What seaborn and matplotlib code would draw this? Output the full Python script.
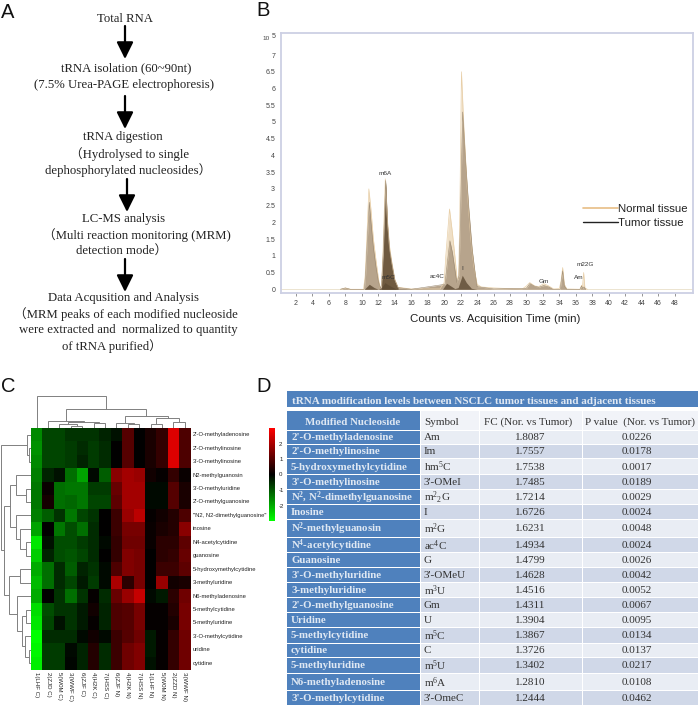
import numpy as np
import pandas as pd
import matplotlib
matplotlib.use("Agg")
import matplotlib.pyplot as plt
from matplotlib.colors import LinearSegmentedColormap
from matplotlib.patches import Rectangle
from matplotlib.lines import Line2D
import seaborn as sns

# ---------- data ----------
flow_lines = ["Total RNA",
              "tRNA isolation (60~90nt)", "(7.5% Urea-PAGE electrophoresis)",
              "tRNA digestion", "（Hydrolysed to single", "dephosphorylated nucleosides）",
              "LC-MS analysis", "（Multi reaction monitoring (MRM)", "detection mode）",
              "Data Acqusition and Analysis", "（MRM peaks of each modified nucleoside",
              "were extracted and  normalized to quantity", "of tRNA purified）"]

normal_t = [7.4, 8.0, 8.6, 10.2, 10.4, 10.6, 10.85, 11.1, 11.4, 11.7, 12.0, 12.2, 12.3, 12.4, 12.55, 12.85, 13.1,
            13.35, 13.65, 14.0, 14.4, 16.0, 19.5, 20.0, 20.2, 20.65, 21.0, 21.3, 21.55, 21.75, 21.9, 22.1, 22.4, 22.8,
            23.2, 23.6, 24.0, 24.5, 26.0, 28.0, 29.5, 30.0, 30.4, 31.0, 31.5, 32.1, 32.7, 33.3, 34.0, 34.2, 34.4,
            34.6, 34.9, 36.5, 36.7, 36.8, 36.95, 37.1, 37.4]
normal_v = [0, .04, 0, 0, .4, 1.5, 3.0, 2.4, 1.5, .9, .35, .05, .04, .2, 1.0, 3.3, 2.1,
            1.3, .8, .3, .06, .01, .01, .2, 1.0, 2.4, 1.7, 1.0, .35, .3, 2.2, 6.5, 4.8, 3.0,
            1.6, .7, .15, .07, .04, .02, .01, .1, .2, .1, .08, .17, .1, .01, .02, .25, .65,
            .15, .01, 0, .12, .05, .5, .04, 0]
tumor_t = [7.4, 8.0, 8.6, 10.3, 10.45, 10.65, 10.9, 11.15, 11.4, 11.7, 12.0, 12.25, 12.4, 12.6, 12.9, 13.1, 13.35, 13.65,
           14.0, 14.4, 16.0, 20.1, 20.3, 20.7, 21.0, 21.3, 21.55, 21.8, 21.95, 22.25, 22.6, 23.0, 23.4, 23.8, 24.0,
           26.0, 30.0, 30.4, 31.0, 31.5, 32.1, 32.7, 33.2, 34.1, 34.4, 34.6, 34.9, 36.5, 36.7, 36.8, 37.0, 37.2]
tumor_v = [0, .04, 0, 0, .4, 1.4, 2.6, 1.9, 1.25, .7, .25, .02, .15, 1.1, 3.25, 2.0, 1.2, .75,
           .28, .05, 0, .15, .6, 1.45, 1.1, .6, .2, .4, 1.8, 5.3, 3.8, 2.4, 1.2, .4, .08,
           .01, .03, .17, .09, .06, .11, .07, 0, 0, .55, .1, 0, 0, .1, .03, .07, 0]
spine_t = [12.4, 12.6, 12.9, 13.1, 13.35, 13.65, 14.0, 14.4]
spine_v = [.12, 1.05, 3.2, 1.95, 1.15, .7, .25, .04]
minor_t = [10.3, 10.9, 11.5, 12.0, 12.4, 12.8, 13.1, 13.6, 14.2, 19.8, 20.3, 20.8, 21.3, 21.7, 22.2, 22.7, 23.3, 24.0]
minor_v = [0, .15, .05, 0, .05, .2, .15, .08, .01, 0, .18, .1, .02, .05, .42, .2, .03, 0]
peak_names = ["m6A", "m5C", "ac4C", "I", "Gm", "Am", "m22G"]
peak_x = [12.82, 13.2, 19.2, 22.15, 32.1, 36.3, 37.1]
peak_y = [3.47, .35, .38, .63, .23, .35, .73]

heat_rows = ["2'-O-methyladenosine", "2'-O-methylinosine", "3'-O-methylinosine", "N2-methylguanosin",
             "3'-O-methyluridine", "2'-O-methylguanosine", "\"N2, N2-dimethylguanosine\"", "inosine",
             "N4-acetylcytidine", "guanosine", "5-hydroxymethylcytidine", "3-methyluridine",
             "N6-methyladenosine", "5-methylcytidine", "5-methyluridine", "3'-O-methylcytidine",
             "uridine", "cytidine"]
heat_cols = ["1(LHF C)", "2(ZJD C)", "5(W0M C)", "3(WWF C)", "6(ZJF C)", "4(H2K C)", "7(HSS C)",
             "6(ZJF N)", "4(H2K N)", "7(HSS N)", "1(LHF N)", "5(W0M N)", "2(ZZD N)", "3(WWF N)"]
heat_vals = [
    [-1.6, -.8, -.8, -.6, -.6, -.6, -.4, -.2, 1.0, 0, .3, .6, 2.6, .9],
    [-1.7, -.8, -.8, -.7, -.5, -.7, -.5, 0, 1.0, 0, .3, .6, 2.6, .9],
    [-1.6, -.8, -.8, -.7, -.4, -.7, -.5, 0, 1.0, 0, .3, .6, 2.6, .9],
    [-1.5, -.4, -.2, -1.3, -1.9, -.1, -1.1, 1.6, 1.9, 1.8, .2, .05, .6, .1],
    [-1.4, .1, -1.3, -1.4, -1.4, -.7, -.7, 1.2, 1.9, 1.9, -.1, -.1, 1.0, .3],
    [-1.4, .25, -1.3, -1.2, -1.4, -.8, -.8, 1.1, 1.9, 1.9, -.1, -.1, 1.0, .3],
    [-1.5, -1.1, -.6, -1.4, -.8, -.6, 0, .7, 1.8, 2.2, .05, .2, .4, .9],
    [-1.9, 0, -1.4, -.9, -1.3, -.5, 0, .7, 1.4, 1.4, .1, .3, .4, 1.6],
    [-2.7, -.2, -.9, -.9, -.7, -.5, -.1, .6, 1.3, 1.3, .1, .5, .5, 1.1],
    [-2.4, -.4, -.9, -1.0, -.8, -.5, 0, .6, 1.5, 1.4, 0, .5, .6, 1.2],
    [-2.0, -1.3, -.5, -1.1, -.4, -.6, -.1, .9, 1.5, 1.4, 0, .7, .7, 1.1],
    [-2.2, -1.3, -.5, -.8, -.3, -.7, -.1, 2.0, .5, 1.4, 0, 1.8, .2, .3],
    [-2.0, 0, -.6, -1.3, -.6, .05, -.5, 1.2, 1.8, 2.3, -.1, -.3, .5, 1.3],
    [-2.6, -.9, -.6, -.6, -.3, .2, -.4, .9, 1.0, 1.4, .05, .05, .4, 1.4],
    [-2.7, -.8, -.2, -.6, -.3, .05, -.4, .9, 1.0, 1.4, .05, .05, .3, 1.4],
    [-3.0, -.5, -.5, -.5, -.1, .2, -.1, .7, 1.0, 1.3, -.3, .05, .6, 1.3],
    [-2.9, -.7, -.7, -.1, -.4, .4, -.5, .7, 1.3, 1.5, -.3, .05, .6, 1.3],
    [-2.8, -.7, -.7, -.05, -.4, .4, -.5, .7, 1.3, 1.5, -.2, .05, .6, 1.3],
]
# dendrograms: (distance, left branch, right branch), integers are leaves
row_tree = (30.5, (4.5, 0, (2, 1, 2)),
            (27, (21.5, (15.5, 3, (5.5, 4, 5)), (15.5, 6, (11.5, 7, (5, 8, 9)))),
             (22, (11.5, 10, 11), (14.5, 12, (9.5, (5.5, 13, 14), (6.5, 15, (2, 16, 17)))))))
col_tree = (32.3, 0,
            (19, (6.7, 1, (5.7, (3.7, 2, (2.3, 3, 4)), (4.7, 5, 6))),
             (12, (5.3, 7, (3.7, 8, 9)), (10.3, (4, 10, 11), (6.3, 12, 13)))))

table_title = "tRNA modification levels between NSCLC tumor tissues and adjacent tissues"
table_head = ["Modified Nucleoside", "Symbol", "FC (Nor. vs Tumor)", "P value  (Nor. vs Tumor)"]
nucleosides = ["2'-O-methyladenosine", "2'-O-methylinosine", "5-hydroxymethylcytidine", "3'-O-methylinosine",
               "N$^2$, N$^2$-dimethylguanosine", "Inosine", "N$^2$-methylguanosin", "N$^4$-acetylcytidine",
               "Guanosine", "3'-O-methyluridine", "3-methyluridine", "2'-O-methylguanosine", "Uridine",
               "5-methylcytidine", "cytidine", "5-methyluridine", "N6-methyladenosine", "3'-O-methylcytidine"]
symbols = ["Am", "Im", "hm$^5$C", "3'-OMeI", "m$^2{}_2$G", "I", "m$^2$G", "ac$^4$C", "G", "3'-OMeU", "m$^3$U", "Gm",
           "U", "m$^5$C", "C", "m$^5$U", "m$^6$A", "3'-OmeC"]
fold_change = ["1.8087", "1.7557", "1.7538", "1.7485", "1.7214", "1.6726", "1.6231", "1.4934", "1.4799", "1.4628",
               "1.4516", "1.4311", "1.3904", "1.3867", "1.3726", "1.3402", "1.2810", "1.2444"]
p_values = ["0.0226", "0.0178", "0.0017", "0.0189", "0.0029", "0.0024", "0.0048", "0.0024", "0.0026", "0.0042",
            "0.0052", "0.0067", "0.0095", "0.0134", "0.0137", "0.0217", "0.0108", "0.0462"]

# ---------- layout ----------
W, H = 698, 706
sns.set_theme(style="white")
plt.rcParams["font.family"] = ["Liberation Sans", "DejaVu Sans"]
plt.rcParams["mathtext.default"] = "regular"
SERIF = ["Liberation Serif", "Noto Sans CJK SC"]
fig = plt.figure(figsize=(W / 100, H / 100), dpi=100, facecolor="white")


def axpx(x0, y0, x1, y1, **kw):
    return fig.add_axes([x0 / W, 1 - y1 / H, (x1 - x0) / W, (y1 - y0) / H], **kw)


canvas = axpx(0, 0, W, H)
canvas.set_xlim(0, W)
canvas.set_ylim(H, 0)
canvas.axis("off")

# panel letters
for letter, (lx, ly) in zip("ABCD", [(8, 13), (263, 10), (8, 387), (264, 387)]):
    canvas.text(lx, ly, letter, fontsize=14.5, ha="center", va="center", color="#111111")

# ---------- A: workflow ----------
flow_xy = [(125, 19), (126, 68), (124, 85), (123, 137), (130, 154), (128, 170), (124, 219), (137, 235), (122, 252),
           (123, 298), (126, 314), (128, 330), (112, 346)]
for line, (tx, ty) in zip(flow_lines, flow_xy):
    canvas.text(tx, ty, line, family=SERIF, fontsize=9.15, ha="center", va="center", color="#222222")
for ax_, y0, y1 in [(125, 26, 59), (125, 96, 129), (127, 179, 212), (125, 259, 292)]:
    canvas.annotate("", xy=(ax_, y1), xytext=(ax_, y0),
                    arrowprops=dict(arrowstyle="-|>,head_width=0.42,head_length=0.85", color="black", lw=1.6,
                                    shrinkA=0, shrinkB=0))

# ---------- B: chromatogram ----------
axb = axpx(280.7, 33.3, 692.7, 293.3)
axb.set_xlim(0.14, 50.2)
axb.set_ylim(-0.12, 7.65)
axb.fill_between(normal_t, normal_v, color="#efdfc6", lw=0)
axb.fill_between(tumor_t, tumor_v, color="#b7a48c", lw=0)
axb.fill_between(spine_t, spine_v, color="#6f5a40", lw=0)
axb.fill_between(minor_t, minor_v, color="#5d4a33", alpha=0.8, lw=0)
sns.lineplot(x=normal_t, y=normal_v, ax=axb, color="#e8cfa8", lw=0.5, errorbar=None, sort=False)
sns.lineplot(x=tumor_t, y=tumor_v, ax=axb, color="#9c8a72", lw=0.4, errorbar=None, sort=False)
axb.axhline(0, color="#e9dfc9", lw=0.6, zorder=0)
axb.set_xticks(np.arange(2, 49, 2))
axb.set_yticks(np.arange(0, 7.5, 0.5))
axb.set_xticklabels([str(v) for v in range(2, 49, 2)])
axb.set_yticklabels([f"{v:g}" for v in np.arange(0, 7.5, 0.5)])
axb.tick_params(axis="both", labelsize=5, colors="#444444", length=2, width=0.4, pad=3, bottom=True, left=False)
axb.tick_params(axis="y", pad=2)
for s in axb.spines.values():
    s.set_color("#cdd0e4")
    s.set_linewidth(1.3)
axb.set_xlabel("Counts vs. Acquisition Time (min)", fontsize=8.25, color="#222222")
axb.xaxis.set_label_coords((495 - 280.7) / 412, -0.078)
for name, px_, py_ in zip(peak_names, peak_x, peak_y):
    axb.text(px_, py_, name, fontsize=4.6, ha="center", va="center", color="#333333")
canvas.text(266, 39, "10", fontsize=4.6, ha="center", va="center", color="#444444")
canvas.text(274, 37, "5", fontsize=5, ha="center", va="center", color="#444444")
axb.legend(handles=[Line2D([], [], color="#e8bd85", lw=1.2, label="Normal tissue"),
                    Line2D([], [], color="#222222", lw=1.0, label="Tumor tissue")],
           frameon=False, fontsize=8.2, loc="center left", bbox_to_anchor=(0.7335, 0.298), handlelength=3.1,
           handletextpad=0, labelspacing=0.35, labelcolor="#222222", borderpad=0, borderaxespad=0)

# ---------- C: heatmap ----------
cmap = LinearSegmentedColormap.from_list("gbr", ["#00ff00", "#000000", "#ff0000"])
axh = axpx(31, 428, 190.5, 670)
axc = axpx(269, 428, 275, 521)
frame = pd.DataFrame(heat_vals, index=heat_rows, columns=heat_cols)
sns.heatmap(frame, ax=axh, cmap=cmap, vmin=-3, vmax=3, cbar_ax=axc, xticklabels=True, yticklabels=True)
axh.yaxis.tick_right()
axh.tick_params(axis="both", length=0, pad=1.5, labelsize=4.25, colors="#222222")
axh.set_yticklabels(heat_rows, rotation=0, fontsize=4.25, va="center")
axh.set_xticklabels(heat_cols, rotation=270, fontsize=4.4, ha="center", va="top")
axc.set_yticks([-2, -1, 0, 1, 2])
axc.set_yticklabels(["-2", "-1", "0", "1", "2"])
axc.tick_params(length=0, pad=3, labelsize=4.4, colors="#222222", right=False)
for s in axc.spines.values():
    s.set_visible(False)


def draw_tree(node, ax, vertical):
    if isinstance(node, int):
        return node + 0.5, 0.0
    dist, left, right = node
    pa, ha = draw_tree(left, ax, vertical)
    pb, hb = draw_tree(right, ax, vertical)
    pos = [pa, pa, pb, pb]
    hgt = [ha, dist, dist, hb]
    if vertical:
        ax.plot(pos, hgt, color="#808080", lw=0.7, solid_joinstyle="miter")
    else:
        ax.plot(hgt, pos, color="#808080", lw=0.7, solid_joinstyle="miter")
    return (pa + pb) / 2, dist


axr = axpx(0, 428, 31, 670)
axr.set_xlim(31, 0)
axr.set_ylim(18, 0)
axr.axis("off")
draw_tree(row_tree, axr, False)
axt = axpx(31, 390, 190.5, 428)
axt.set_xlim(0, 14)
axt.set_ylim(0, 38)
axt.axis("off")
draw_tree(col_tree, axt, True)

# ---------- D: table ----------
BLUE = "#4f81bd"
LIGHT = "#e9edf4"
DARK = "#d0d8e8"
col_edges = [(287, 419.5), (420.7, 479.3), (480.3, 581.8), (582.8, 698)]
row_edges = [430.5, 444.7, 459.4, 475, 490, 505.3, 520, 538, 553.3, 568, 583.3, 598.3, 613, 628, 643.7, 658.3, 674,
             691.3, 706]
canvas.add_patch(Rectangle((287, 391), 411, 15.7, fc=BLUE, ec="none"))
canvas.text(291.5, 401.3, table_title, family=SERIF, fontsize=8.05, weight="bold", color="#dfe8f3", va="center")
for j, (c0, c1) in enumerate(col_edges):
    canvas.add_patch(Rectangle((c0, 410.7), c1 - c0, 19, fc=BLUE if j == 0 else "#f1f3f8", ec="none"))
canvas.text(353, 422.5, table_head[0], family=SERIF, fontsize=7.8, weight="bold", color="#dfe8f3", ha="center",
            va="center")
canvas.text(424, 422.5, table_head[1], family=SERIF, fontsize=8, color="#333333", va="center")
canvas.text(528.5, 422.5, table_head[2], family=SERIF, fontsize=8, color="#333333", ha="center", va="center")
canvas.text(640, 422.5, table_head[3], family=SERIF, fontsize=8, color="#333333", ha="center", va="center")
for i in range(len(nucleosides)):
    y0, y1 = row_edges[i], row_edges[i + 1] - 1.0
    yc = (y0 + y1) / 2 + 0.3
    for j, (c0, c1) in enumerate(col_edges):
        fc = BLUE if j == 0 else (LIGHT if i % 2 == 0 else DARK)
        canvas.add_patch(Rectangle((c0, y0), c1 - c0, y1 - y0, fc=fc, ec="none"))
    canvas.text(291, yc, nucleosides[i], family=SERIF, fontsize=7.8, weight="bold", color="#dfe8f3", va="center")
    canvas.text(424, yc, symbols[i], family=SERIF, fontsize=8, color="#333333", va="center")
    canvas.text(530, yc, fold_change[i], family=SERIF, fontsize=8, color="#333333", ha="center", va="center")
    canvas.text(637, yc, p_values[i], family=SERIF, fontsize=8, color="#333333", ha="center", va="center")

fig.savefig("out.png", dpi=100, facecolor="white")
